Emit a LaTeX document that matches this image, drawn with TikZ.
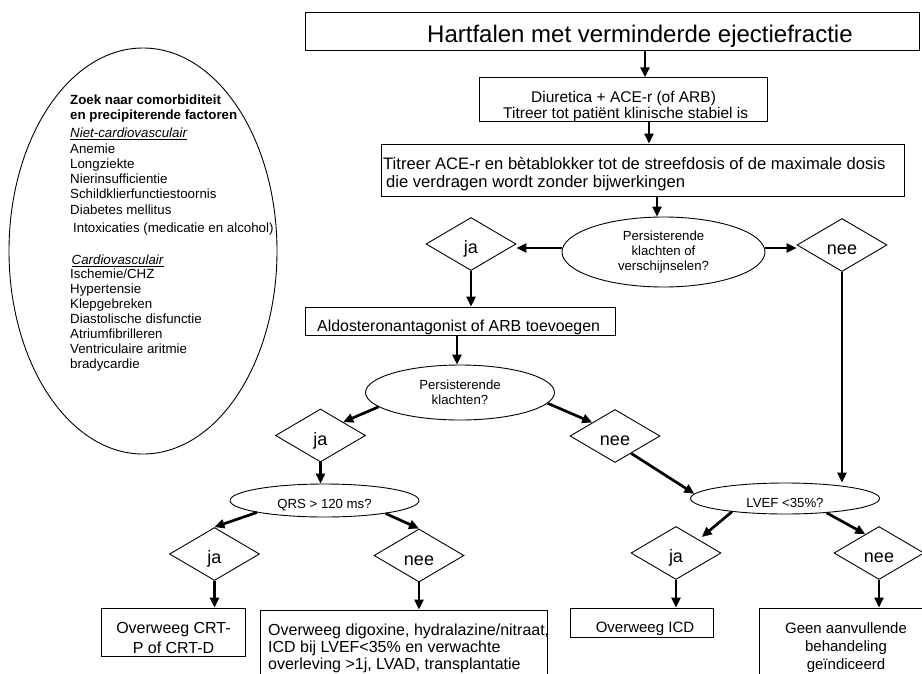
\documentclass[tikz,border=0pt]{standalone}
\usepackage{fontspec}
\setmainfont{Liberation Sans}
\usetikzlibrary{arrows.meta,shapes.geometric,calc}
\newcommand\fsz[2]{\fontsize{#1}{#2}\selectfont}
\tikzset{
  box/.style={draw, line width=0.9pt, rectangle, inner sep=0pt},
  oval/.style={draw, line width=0.9pt, ellipse, inner sep=0pt},
  dia/.style={draw, line width=0.9pt, diamond, inner sep=0pt, minimum width=90pt, minimum height=53pt,
              font=\fsz{18}{20}, text height=19pt, text depth=0pt},
  arr/.style={line width=2.7pt, -{Triangle[length=10pt,width=9pt]}},
  txt/.style={inner sep=0pt},
}
\begin{document}
\begin{tikzpicture}[x=1pt,y=-1pt]
\useasboundingbox (0,0) rectangle (922,673);
\clip (0,0) rectangle (922,673);

% ---------- left ellipse with comorbidity list ----------
\node[oval, minimum width=268pt, minimum height=406pt] (comorb) at (143,251) {};
\node[txt, anchor=north west, align=left, font=\fsz{13.3}{15}] (comorbtxt) at (70,95.1)
 {\textbf{Zoek naar comorbiditeit}\\[-0.7pt]
  \textbf{en precipiterende factoren}\\[3.4pt]
  \underline{\textit{Niet-cardiovasculair}}\\[0.6pt]
  Anemie\\
  Longziekte\\
  Nierinsufficientie\\
  Schildklierfunctiestoornis\\[1.4pt]
  Diabetes mellitus\\[3pt]
  \hspace*{3pt}Intoxicaties (medicatie en alcohol)\\[16.6pt]
  \hspace*{1.5pt}\underline{\textit{Cardiovasculair}}\\[-1pt]
  Ischemie/CHZ\\
  Hypertensie\\
  Klepgebreken\\
  Diastolische disfunctie\\
  Atriumfibrilleren\\
  Ventriculaire aritmie\\
  bradycardie};

% ---------- top boxes ----------
\node[box, minimum width=614pt, minimum height=38pt] (title) at (612,31) {};
\node[txt, anchor=base west, font=\fsz{24}{26}] (titletxt) at (427,42.5) {Hartfalen met verminderde ejectiefractie};

\node[box, minimum width=288pt, minimum height=44pt] (diur) at (623,99.7) {};
\node[txt, anchor=base west, font=\fsz{15.5}{17}] (diurtxta) at (531,102.2) {Diuretica + ACE-r (of ARB)};
\node[txt, anchor=base west, font=\fsz{15.5}{17}] (diurtxtb) at (503,118.5) {Titreer tot patiënt klinische stabiel is};

\node[box, minimum width=523pt, minimum height=52pt] (titreer) at (643.3,170) {};
\node[txt, anchor=base west, font=\fsz{16.6}{18}] (titreertxta) at (383,169) {Titreer ACE-r en bètablokker tot de streefdosis of de maximale dosis};
\node[txt, anchor=base west, font=\fsz{16.6}{18}] (titreertxtb) at (386,187) {die verdragen wordt zonder bijwerkingen};

% ---------- first question ----------
\node[oval, minimum width=203pt, minimum height=70pt, align=center, font=\fsz{13.2}{15}] (q1) at (663.5,252)
 {Persisterende\\klachten of\\verschijnselen?};
\node[dia] (ja1) at (471,244) {ja};
\node[dia] (nee1) at (842,245) {nee};

\node[box, minimum width=310pt, minimum height=28pt] (aldo) at (460,321) {};
\node[txt, anchor=base west, font=\fsz{15.9}{18}] (aldotxt) at (317,331.5) {Aldosteronantagonist of ARB toevoegen};

% ---------- second question ----------
\node[oval, minimum width=189pt, minimum height=55pt, align=center, font=\fsz{13.2}{15}] (q2) at (460,392.5)
 {Persisterende\\klachten?};
\node[dia] (ja2) at (320.5,435.5) {ja};
\node[dia] (nee2) at (615,436) {nee};

\node[oval, minimum width=189pt, minimum height=33pt, font=\fsz{13.2}{15}, text height=16pt, text depth=0pt] (qrs) at (324.5,500.5) {QRS > 120 ms?};
\node[oval, minimum width=189pt, minimum height=31pt, font=\fsz{13.2}{15}, text height=18pt, text depth=0pt] (lvef) at (785,498.5) {LVEF <35\%?};

\node[dia] (ja3) at (214.5,554) {ja};
\node[dia] (nee3) at (419,555.5) {nee};
\node[dia] (ja4) at (676,553) {ja};
\node[dia] (nee4) at (879,553) {nee};

% ---------- bottom boxes ----------
\node[box, minimum width=144pt, minimum height=48pt] (crt) at (173,632) {};
\node[txt, anchor=base, font=\fsz{16}{20}] (crttxta) at (173.5,633.7) {Overweeg CRT-};
\node[txt, anchor=base, font=\fsz{16}{20}] (crttxtb) at (173.5,653.7) {P of CRT-D};

\node[box, minimum width=287pt, minimum height=90pt] (dig) at (403.5,655) {};
\node[txt, anchor=base west, font=\fsz{16}{19}] (digtxta) at (268,635) {Overweeg digoxine, hydralazine/nitraat,};
\node[txt, anchor=base west, font=\fsz{16}{19}] (digtxtb) at (268,652.5) {ICD bij LVEF<35\% en verwachte};
\node[txt, anchor=base west, font=\fsz{16}{19}] (digtxtc) at (268,669.3) {overleving >1j, LVAD, transplantatie};

\node[box, minimum width=143.5pt, minimum height=29pt] (icd) at (642,622.5) {};
\node[txt, anchor=base, font=\fsz{15}{19}] (icdtxt) at (645,632.4) {Overweeg ICD};

\node[box, minimum width=174pt, minimum height=92pt] (geen) at (846,654) {};
\node[txt, anchor=base, font=\fsz{15}{19}] (geentxta) at (846,633.2) {Geen aanvullende};
\node[txt, anchor=base, font=\fsz{15}{19}] (geentxtb) at (846,651.8) {behandeling};
\node[txt, anchor=base, font=\fsz{15}{19}] (geentxtc) at (846,669.3) {geïndiceerd};

% ---------- connectors ----------
\coordinate (t1) at ([xshift=33pt]title.south);
\draw[arr] (t1) -- (t1 |- diur.north);
\coordinate (d1) at ([xshift=26pt]diur.south);
\draw[arr] (d1) -- (d1 |- titreer.north);
\coordinate (q1top) at ([xshift=-6.5pt]q1.north);
\draw[arr] (q1top |- titreer.south) -- (q1top);
\coordinate (q1w) at ([yshift=4pt]q1.west);
\draw[arr] (q1w) -- (q1w -| ja1.east);
\coordinate (q1e) at ([yshift=4pt]q1.east);
\draw[arr] (q1e) -- (q1e -| nee1.west);
\draw[arr] (ja1.south) -- (ja1.south |- aldo.north);
\coordinate (q2top) at ([xshift=-3pt]q2.north);
\draw[arr] (q2top |- aldo.south) -- (q2top);
\draw[arr] (q2.190) -- (ja2.north east);
\draw[arr] (q2.-7) -- (nee2.north west);
\draw[arr] (ja2.south) -- (ja2.south |- qrs.north);
\draw[arr] (qrs.190) -- (ja3.north);
\draw[arr] (qrs.-12) -- (nee3.north);
\draw[arr] (nee2.-47) -- (lvef.177);
\draw[arr] (nee1.south) -- (nee1.south |- lvef.north);
\draw[arr, shorten >=4pt] (lvef.194) -- (ja4.north east);
\draw[arr] (lvef.-19) -- (nee4.126);
\draw[arr] (ja3.south) -- (ja3.south |- crt.north);
\draw[arr] (nee3.south) -- (nee3.south |- dig.north);
\draw[arr] (ja4.south) -- (ja4.south |- icd.north);
\draw[arr] (nee4.south) -- (nee4.south |- geen.north);
\end{tikzpicture}
\end{document}
